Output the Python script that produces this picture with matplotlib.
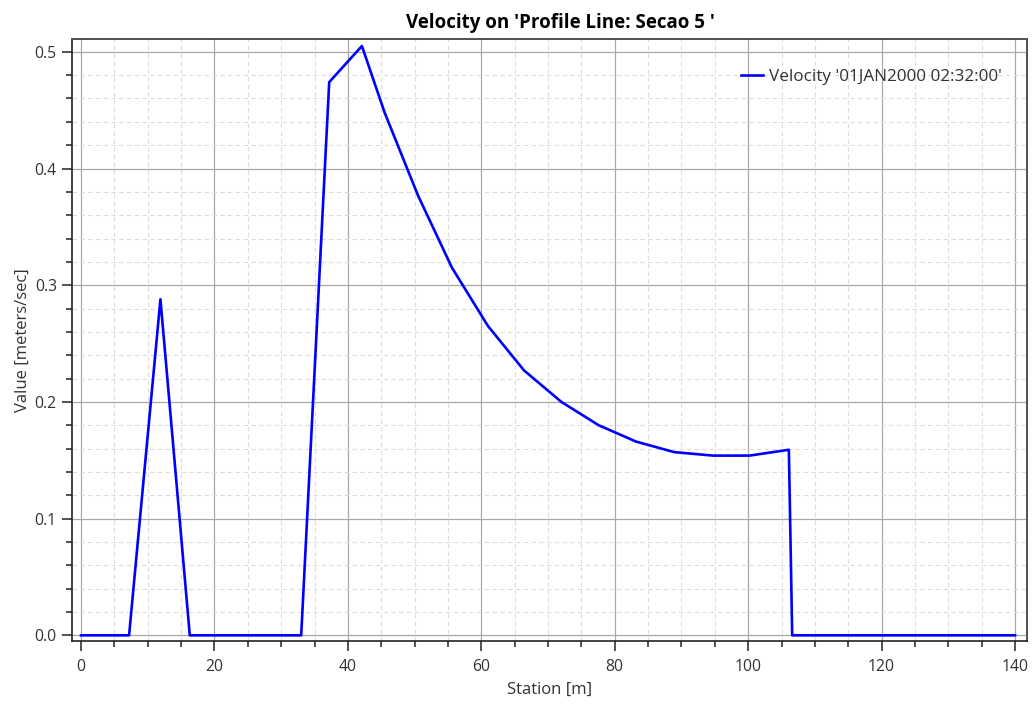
import matplotlib
matplotlib.use("Agg")
import matplotlib.pyplot as plt
from matplotlib.ticker import MultipleLocator

plt.rcParams['font.family'] = ['Open Sans', 'DejaVu Sans']

station = [0, 7.2, 11.9, 16.3, 33.0, 37.2, 42.1, 45.5, 50.5, 55.6, 61.0, 66.4,
           72.0, 77.6, 83.2, 88.9, 94.7, 100.2, 106.1, 106.6, 140.0]
velocity = [0.0, 0.0, 0.288, 0.0, 0.0, 0.474, 0.505, 0.448, 0.377, 0.315, 0.265,
            0.227, 0.200, 0.180, 0.166, 0.157, 0.154, 0.154, 0.159, 0.0, 0.0]

title = "Velocity on 'Profile Line: Secao 5 '"
series_label = "Velocity '01JAN2000 02:32:00'"
xlabel = "Station [m]"
ylabel = "Value [meters/sec]"

fig = plt.figure(figsize=(10.35, 7.06), dpi=100)
ax = fig.add_axes([0.0696, 0.0925, 0.9227, 0.8523])

ax.plot(station, velocity, color='#0000ff', lw=1.9, label=series_label, zorder=3)

ax.set_xlim(-1.35, 141.8)
ax.set_ylim(-0.0046, 0.511)

ax.xaxis.set_major_locator(MultipleLocator(20))
ax.xaxis.set_minor_locator(MultipleLocator(5))
ax.yaxis.set_major_locator(MultipleLocator(0.1))
ax.yaxis.set_minor_locator(MultipleLocator(0.02))
ax.yaxis.set_major_formatter(matplotlib.ticker.FormatStrFormatter('%.1f'))

ax.grid(which='major', color='#a8a8a8', lw=0.9, ls='-')
ax.grid(which='minor', color='#dcdcdc', lw=0.8, ls=(0, (4, 3)))
ax.set_axisbelow(True)

ax.tick_params(which='major', direction='out', length=7, width=1.1, color='#222222',
               labelsize=11.3, labelcolor='#333333', pad=4)
ax.tick_params(which='minor', direction='out', length=4.5, width=1.1, color='#222222')
ax.tick_params(axis='x', which='major', pad=6)

for side in ['top', 'right']:
    ax.spines[side].set_color('#505050')
    ax.spines[side].set_linewidth(1.4)
for side in ['left', 'bottom']:
    ax.spines[side].set_color('#222222')
    ax.spines[side].set_linewidth(1.2)

ax.set_title(title, fontsize=13.5, fontweight='bold', pad=8, x=0.511)
ax.set_xlabel(xlabel, fontsize=12, color='#333333', labelpad=5)
ax.set_ylabel(ylabel, fontsize=12, color='#333333', labelpad=3)

leg = ax.legend(loc='upper right', frameon=False, fontsize=12.3,
                handlelength=1.3, handletextpad=0.35, bbox_to_anchor=(0.99, 0.975))
for t in leg.get_texts():
    t.set_color('#333333')

fig.savefig('out.png', dpi=100)
